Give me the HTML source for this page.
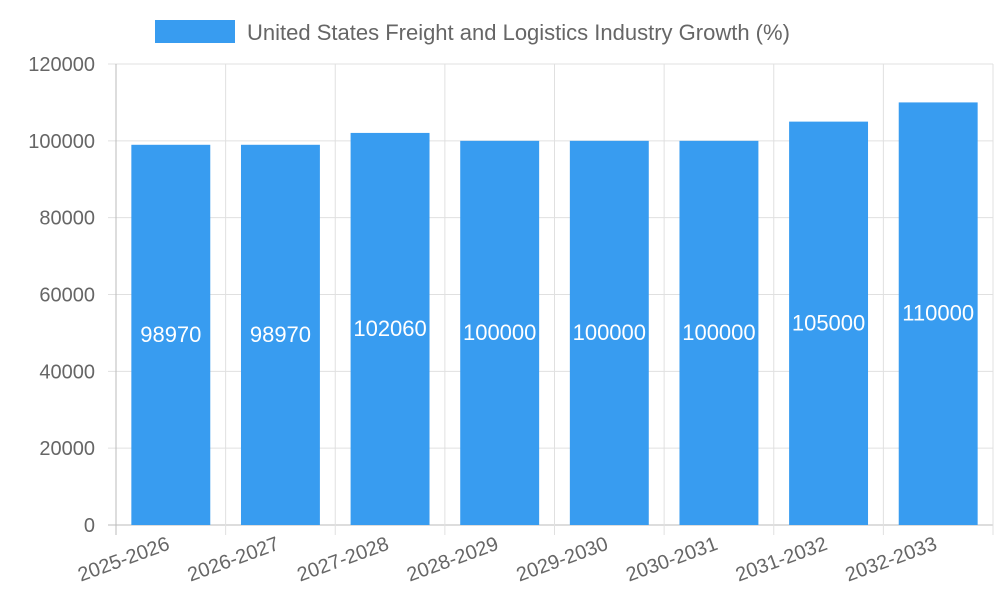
<!DOCTYPE html>
<html><head><meta charset="utf-8"><style>
body{margin:0;background:#fff;}
svg{display:block;font-family:"Liberation Sans",Arial,sans-serif;}
</style></head><body>
<svg id="chart" width="1000" height="600" viewBox="0 0 1000 600">
<g>
<rect x="155" y="20" width="80" height="23" fill="#389cf0"/>
<text x="247" y="40" font-size="22" fill="#666">United States Freight and Logistics Industry Growth (%)</text>
</g>
<g id="grid"></g>
<g id="bars"></g>
<g id="axes"></g>
</svg>
<script>
const categories=["2025-2026","2026-2027","2027-2028","2028-2029","2029-2030","2030-2031","2031-2032","2032-2033"];
const values=[98970,98970,102060,100000,100000,100000,105000,110000];
const yTicks=[0,20000,40000,60000,80000,100000,120000];
const NS="http://www.w3.org/2000/svg";
const L=116,R=993,T=64,B=525,yMax=120000;
const bw=(R-L)/categories.length;
const y=v=>B-(v/yMax)*(B-T);
const x=i=>L+i*bw;
function mk(tag,attrs,parent,text){const e=document.createElementNS(NS,tag);for(const k in attrs)e.setAttribute(k,attrs[k]);if(text!==undefined)e.textContent=text;parent.appendChild(e);return e;}
const grid=document.getElementById('grid'),bars=document.getElementById('bars'),axes=document.getElementById('axes');
yTicks.forEach(t=>{
 const l=mk('line',{x1:108,x2:R,y1:y(t),y2:y(t),stroke:t===0?'#bbb':'#e0e0e0','stroke-width':1},grid);
 
 
 const tx=mk('text',{x:95,y:y(t)+7,'text-anchor':'end','font-size':20,fill:'#666'},axes,t);
 
 
});
for(let i=0;i<=categories.length;i++){
 const l=mk('line',{x1:x(i),x2:x(i),y1:T,y2:B+10,stroke:i===0?'#bbb':'#e0e0e0','stroke-width':1},grid);
 
 
}
categories.forEach((c,i)=>{
 const cx=x(i)+bw/2,w=bw*0.72;
 const r=mk('rect',{x:cx-w/2,y:y(values[i]),width:w,height:B-y(values[i]),fill:'#389cf0'},bars);
 
 
 const v=mk('text',{x:cx,y:(y(values[i])+B)/2+7,'text-anchor':'middle','font-size':22,fill:'#fff'},bars,values[i]);
 
 
 const t=mk('text',{x:cx,y:B+24,'text-anchor':'end','font-size':20,fill:'#666',transform:`rotate(-20 ${cx} ${B+24})`},axes,c);
 
 
});
</script>
</body></html>
